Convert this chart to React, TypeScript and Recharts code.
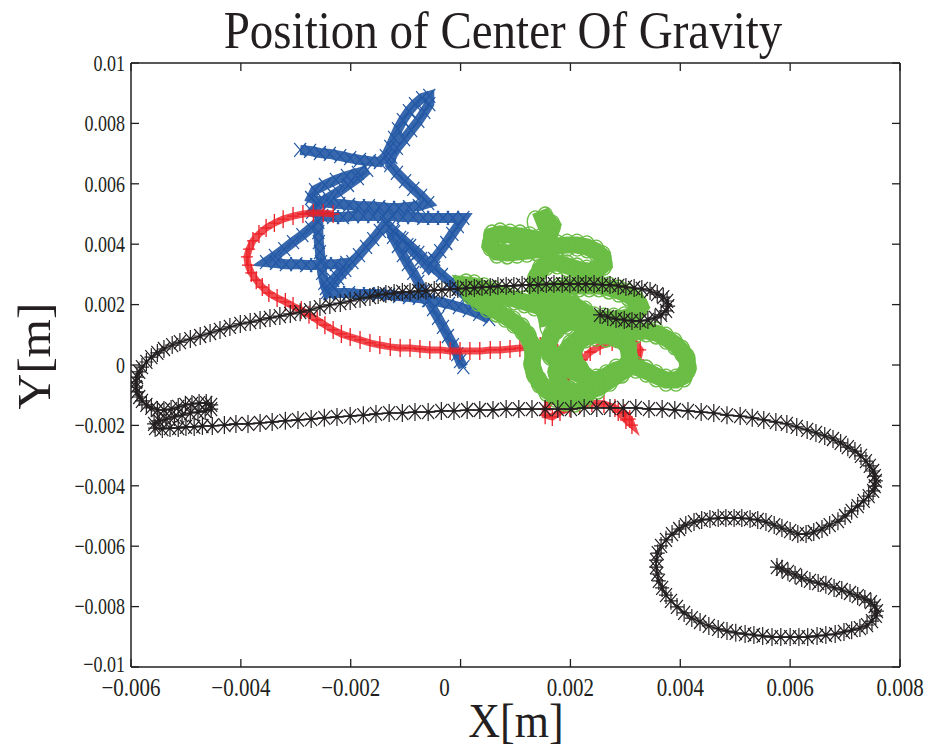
import React from "react";
import { ScatterChart, Scatter, XAxis, YAxis, ReferenceLine } from "recharts";

// axis ticks, metres
const X_TICKS = [-0.006, -0.004, -0.002, 0, 0.002, 0.004, 0.006, 0.008];
const X_TICK_LABELS = ["−0.006", "−0.004", "−0.002", "0", "0.002", "0.004", "0.006", "0.008"];
const Y_TICKS = [-0.01, -0.008, -0.006, -0.004, -0.002, 0, 0.002, 0.004, 0.006, 0.008, 0.01];
const Y_TICK_LABELS = ["−0.01", "−0.008", "−0.006", "−0.004", "−0.002", "0", "0.002", "0.004", "0.006", "0.008", "0.01"];

// trajectories, [x, y] in millimetres
const BLUE_PATH: [number, number][] = [
  [-2.92, 7.12], [-2.74, 7.09], [-2.56, 7.02], [-2.38, 6.99], [-2.19, 6.92], [-2.01, 6.85], [-1.83, 6.79], [-1.65, 6.75],
  [-1.47, 6.72], [-1.36, 6.92], [-1.28, 7.22], [-1.21, 7.52], [-1.14, 7.81], [-1.05, 8.11], [-0.94, 8.41], [-0.83, 8.64],
  [-0.70, 8.84], [-0.57, 8.91], [-0.57, 8.64], [-0.66, 8.38], [-0.77, 8.08], [-0.90, 7.78], [-1.03, 7.48], [-1.16, 7.19],
  [-1.26, 6.89], [-1.28, 6.62], [-1.16, 6.36], [-1.01, 6.09], [-0.86, 5.83], [-0.72, 5.60], [-0.59, 5.36], [-0.76, 5.26],
  [-0.94, 5.23], [-1.12, 5.20], [-1.30, 5.20], [-1.48, 5.23], [-1.67, 5.26], [-1.85, 5.26], [-2.03, 5.30], [-2.21, 5.33],
  [-2.39, 5.36], [-2.58, 5.43], [-2.72, 5.53], [-2.65, 5.79], [-2.47, 5.96], [-2.27, 6.13], [-2.07, 6.26], [-1.87, 6.36],
  [-1.70, 6.46], [-1.87, 6.19], [-2.05, 5.96], [-2.23, 5.73], [-2.41, 5.53], [-2.59, 5.30], [-2.70, 5.07], [-2.52, 4.93],
  [-2.32, 4.90], [-2.14, 4.90], [-1.96, 4.93], [-1.77, 4.93], [-1.59, 4.93], [-1.41, 4.93], [-1.23, 4.93], [-1.05, 4.90],
  [-0.86, 4.90], [-0.68, 4.87], [-0.50, 4.87], [-0.32, 4.87], [-0.14, 4.87], [0.05, 4.87], [-0.05, 4.60], [-0.15, 4.34],
  [-0.26, 4.04], [-0.37, 3.77], [-0.48, 3.51], [-0.59, 3.24], [-0.72, 3.51], [-0.85, 3.74], [-0.97, 3.97], [-1.10, 4.21],
  [-1.23, 4.44], [-1.36, 4.70], [-1.47, 4.44], [-1.59, 4.17], [-1.72, 3.91], [-1.85, 3.64], [-1.97, 3.41], [-2.10, 3.15],
  [-2.23, 2.88], [-2.34, 2.62], [-2.43, 2.42], [-2.48, 2.72], [-2.52, 3.05], [-2.54, 3.41], [-2.56, 3.74], [-2.58, 4.07],
  [-2.59, 4.40], [-2.59, 4.74], [-2.72, 4.54], [-2.88, 4.30], [-3.05, 4.07], [-3.21, 3.84], [-3.38, 3.61], [-3.54, 3.41],
  [-3.36, 3.38], [-3.18, 3.34], [-2.99, 3.34], [-2.81, 3.31], [-2.63, 3.31], [-2.45, 3.34], [-2.27, 3.34], [-2.08, 3.38],
  [-2.19, 3.08], [-2.32, 2.81], [-2.45, 2.55], [-2.39, 2.38], [-2.21, 2.38], [-2.03, 2.38], [-1.85, 2.35], [-1.67, 2.35],
  [-1.48, 2.35], [-1.30, 2.32], [-1.12, 2.28], [-0.94, 2.25], [-0.76, 2.22], [-0.57, 2.15], [-0.39, 2.09], [-0.21, 2.02],
  [-0.03, 1.92], [0.15, 1.82], [0.34, 1.69], [0.52, 1.52], [0.39, 1.79], [0.25, 2.05], [0.10, 2.28], [-0.05, 2.52],
  [-0.19, 2.75], [-0.34, 2.98], [-0.48, 3.21], [-0.63, 3.44], [-0.77, 3.71], [-0.92, 3.94], [-1.06, 4.17], [-1.21, 4.40],
  [-1.30, 4.54], [-1.23, 4.24], [-1.14, 3.94], [-1.05, 3.64], [-0.96, 3.34], [-0.86, 3.05], [-0.77, 2.75], [-0.68, 2.45],
  [-0.59, 2.15], [-0.50, 1.85], [-0.41, 1.56], [-0.32, 1.26], [-0.23, 0.96], [-0.14, 0.66], [-0.06, 0.36], [-0.01, 0.13],
  [0.05, -0.07],
];

const RED_PATH: [number, number][] = [
  [-2.32, 5.00], [-2.50, 5.03], [-2.68, 5.03], [-2.87, 5.00], [-3.05, 4.93], [-3.23, 4.83], [-3.39, 4.70], [-3.54, 4.54],
  [-3.67, 4.34], [-3.78, 4.11], [-3.85, 3.84], [-3.89, 3.58], [-3.87, 3.31], [-3.81, 3.05], [-3.72, 2.81], [-3.61, 2.58],
  [-3.49, 2.38], [-3.34, 2.22], [-3.19, 2.09], [-3.05, 1.95], [-2.90, 1.82], [-2.76, 1.66], [-2.61, 1.49], [-2.47, 1.32],
  [-2.32, 1.16], [-2.17, 1.03], [-2.01, 0.93], [-1.83, 0.83], [-1.65, 0.73], [-1.47, 0.66], [-1.28, 0.60], [-1.10, 0.56],
  [-0.92, 0.56], [-0.74, 0.53], [-0.56, 0.50], [-0.37, 0.50], [-0.19, 0.46], [-0.01, 0.46], [0.17, 0.46], [0.35, 0.46],
  [0.54, 0.50], [0.72, 0.50], [0.90, 0.53], [1.08, 0.56], [1.26, 0.60], [1.45, 0.63], [1.63, 0.56], [1.77, 0.40],
  [1.90, 0.17], [2.03, -0.10], [2.17, -0.36], [2.36, -0.60], [2.54, -0.66], [2.72, -0.53], [2.90, -0.33], [3.08, -0.10],
  [3.23, 0.17], [3.27, 0.50], [3.16, 0.76], [2.98, 0.83], [2.76, 0.76], [2.54, 0.63], [2.36, 0.43], [2.21, 0.17],
  [2.08, -0.10], [1.96, -0.40], [1.85, -0.70], [1.74, -0.96], [1.63, -1.23], [1.54, -1.46], [1.54, -1.66], [1.67, -1.72],
  [1.81, -1.56], [1.99, -1.42], [2.17, -1.32], [2.39, -1.26], [2.61, -1.29], [2.81, -1.42], [2.98, -1.59], [3.08, -1.79],
  [3.12, -1.99], [3.01, -1.82], [2.87, -1.56],
];

const GREEN_PATH: [number, number][] = [
  [1.36, 4.74], [1.54, 4.87], [1.67, 4.60], [1.61, 4.27], [1.45, 4.14], [1.26, 4.21], [1.08, 4.27], [0.90, 4.30],
  [0.72, 4.34], [0.57, 4.27], [0.54, 3.97], [0.66, 3.74], [0.85, 3.71], [1.03, 3.74], [1.21, 3.77], [1.39, 3.81],
  [1.57, 3.87], [1.76, 3.94], [1.94, 3.97], [2.12, 3.97], [2.30, 3.91], [2.47, 3.77], [2.59, 3.58], [2.61, 3.34],
  [2.48, 3.15], [2.30, 3.11], [2.12, 3.18], [1.94, 3.28], [1.76, 3.38], [1.57, 3.34], [1.45, 3.15], [1.37, 2.85],
  [1.37, 2.52], [1.45, 2.22], [1.61, 2.38], [1.79, 2.52], [1.97, 2.58], [2.16, 2.62], [2.34, 2.62], [2.52, 2.62],
  [2.70, 2.55], [2.88, 2.45], [3.05, 2.32], [3.19, 2.15], [3.27, 1.92], [3.16, 1.66], [2.98, 1.56], [2.79, 1.52],
  [2.61, 1.52], [2.43, 1.56], [2.25, 1.59], [2.07, 1.66], [1.88, 1.72], [1.70, 1.79], [1.52, 1.89], [1.34, 1.99],
  [1.16, 2.09], [0.97, 2.19], [0.79, 2.28], [0.61, 2.42], [0.43, 2.52], [0.25, 2.62], [0.10, 2.65], [0.17, 2.38],
  [0.32, 2.15], [0.48, 1.95], [0.65, 1.79], [0.81, 1.62], [0.97, 1.42], [1.12, 1.19], [1.23, 0.93], [1.30, 0.63],
  [1.32, 0.33], [1.30, 0.03], [1.34, -0.26], [1.43, -0.56], [1.56, -0.83], [1.72, -1.03], [1.90, -1.16], [2.08, -1.19],
  [2.27, -1.06], [2.36, -0.79], [2.30, -0.50], [2.19, -0.20], [2.08, 0.10], [2.05, 0.43], [2.12, 0.73], [2.28, 0.93],
  [2.47, 0.99], [2.65, 0.96], [2.83, 0.96], [3.01, 1.03], [3.19, 1.09], [3.38, 1.13], [3.56, 1.06], [3.74, 0.89],
  [3.90, 0.70], [4.03, 0.46], [4.12, 0.20], [4.14, -0.10], [4.07, -0.36], [3.92, -0.50], [3.74, -0.50], [3.56, -0.36],
  [3.38, -0.20], [3.19, -0.07], [3.01, -0.07], [2.83, -0.17], [2.65, -0.36], [2.47, -0.50], [2.28, -0.43], [2.10, -0.26],
  [1.92, -0.07], [1.76, 0.13], [1.63, 0.36], [1.59, 0.66], [1.65, 0.96], [1.76, 1.23], [1.94, 1.39], [2.14, 1.46],
  [2.34, 1.42], [2.54, 1.29], [2.72, 1.13], [2.87, 0.93], [3.05, 0.60], [3.08, 0.17], [2.94, -0.23], [2.72, -0.50],
  [2.50, -0.76], [2.27, -0.89], [1.99, -0.89], [1.81, -0.66], [1.74, -0.23], [1.81, 0.23], [1.99, 0.63], [2.21, 0.96],
  [2.36, 1.29], [2.27, 1.75], [2.03, 2.02], [1.74, 2.09], [1.54, 1.75], [1.59, 1.29],
];

const BLACK_PATH: [number, number][] = [
  [2.54, 1.66], [2.68, 1.59], [2.83, 1.52], [2.98, 1.49], [3.12, 1.46], [3.27, 1.46], [3.41, 1.49], [3.54, 1.56],
  [3.65, 1.66], [3.74, 1.79], [3.78, 1.95], [3.76, 2.12], [3.69, 2.25], [3.58, 2.35], [3.45, 2.45], [3.30, 2.52],
  [3.16, 2.55], [3.01, 2.58], [2.87, 2.62], [2.72, 2.65], [2.58, 2.65], [2.43, 2.68], [2.28, 2.68], [2.14, 2.68],
  [1.99, 2.68], [1.85, 2.68], [1.70, 2.68], [1.56, 2.68], [1.41, 2.65], [1.26, 2.65], [1.12, 2.65], [0.97, 2.62],
  [0.83, 2.62], [0.68, 2.62], [0.54, 2.58], [0.39, 2.58], [0.25, 2.55], [0.10, 2.55], [-0.05, 2.52], [-0.19, 2.52],
  [-0.34, 2.48], [-0.48, 2.48], [-0.63, 2.45], [-0.77, 2.45], [-0.92, 2.42], [-1.06, 2.42], [-1.21, 2.38], [-1.36, 2.35],
  [-1.50, 2.32], [-1.65, 2.25], [-1.83, 2.19], [-2.01, 2.12], [-2.19, 2.05], [-2.38, 1.99], [-2.56, 1.92], [-2.74, 1.82],
  [-2.92, 1.75], [-3.10, 1.69], [-3.29, 1.62], [-3.47, 1.56], [-3.65, 1.49], [-3.83, 1.42], [-4.01, 1.36], [-4.20, 1.26],
  [-4.38, 1.16], [-4.56, 1.06], [-4.74, 0.96], [-4.92, 0.86], [-5.11, 0.76], [-5.25, 0.66], [-5.40, 0.53], [-5.52, 0.40],
  [-5.63, 0.26], [-5.72, 0.10], [-5.80, -0.07], [-5.85, -0.23], [-5.89, -0.40], [-5.91, -0.56], [-5.91, -0.73], [-5.89, -0.89],
  [-5.85, -1.06], [-5.80, -1.19], [-5.72, -1.32], [-5.63, -1.42], [-5.52, -1.49], [-5.40, -1.49], [-5.27, -1.46], [-5.14, -1.39],
  [-5.01, -1.32], [-4.89, -1.29], [-4.76, -1.26], [-4.63, -1.26], [-4.54, -1.32], [-4.54, -1.46], [-4.65, -1.52], [-4.78, -1.56],
  [-4.92, -1.59], [-5.07, -1.66], [-5.21, -1.72], [-5.36, -1.79], [-5.49, -1.85], [-5.58, -1.95], [-5.56, -2.09], [-5.43, -2.12],
  [-5.29, -2.09], [-5.14, -2.09], [-5.00, -2.05], [-4.85, -2.05], [-4.70, -2.02], [-4.52, -2.02], [-4.30, -1.99], [-4.09, -1.95],
  [-3.87, -1.95], [-3.65, -1.92], [-3.43, -1.89], [-3.19, -1.85], [-2.96, -1.82], [-2.72, -1.79], [-2.48, -1.75], [-2.25, -1.72],
  [-2.01, -1.69], [-1.77, -1.66], [-1.54, -1.62], [-1.30, -1.59], [-1.06, -1.59], [-0.83, -1.56], [-0.59, -1.56], [-0.35, -1.52],
  [-0.12, -1.52], [0.12, -1.49], [0.35, -1.49], [0.59, -1.49], [0.83, -1.46], [1.06, -1.46], [1.30, -1.46], [1.54, -1.46],
  [1.77, -1.46], [2.01, -1.46], [2.25, -1.42], [2.48, -1.42], [2.72, -1.42], [2.96, -1.42], [3.19, -1.42], [3.43, -1.46],
  [3.67, -1.46], [3.90, -1.49], [4.14, -1.52], [4.38, -1.56], [4.61, -1.59], [4.85, -1.66], [5.09, -1.69], [5.31, -1.75],
  [5.52, -1.82], [5.74, -1.89], [5.94, -1.95], [6.12, -2.05], [6.31, -2.15], [6.47, -2.25], [6.63, -2.35], [6.78, -2.45],
  [6.92, -2.58], [7.05, -2.72], [7.18, -2.85], [7.29, -3.01], [7.38, -3.18], [7.45, -3.34], [7.51, -3.51], [7.54, -3.68],
  [7.56, -3.84], [7.54, -4.01], [7.51, -4.17], [7.43, -4.34], [7.34, -4.50], [7.23, -4.67], [7.12, -4.83], [7.00, -5.00],
  [6.87, -5.17], [6.72, -5.30], [6.58, -5.43], [6.43, -5.53], [6.29, -5.60], [6.14, -5.60], [6.00, -5.50], [5.85, -5.40],
  [5.71, -5.30], [5.56, -5.20], [5.41, -5.13], [5.27, -5.10], [5.12, -5.07], [4.98, -5.07], [4.83, -5.07], [4.69, -5.07],
  [4.54, -5.10], [4.39, -5.13], [4.25, -5.20], [4.10, -5.30], [3.98, -5.43], [3.85, -5.60], [3.74, -5.79], [3.65, -5.99],
  [3.59, -6.23], [3.56, -6.46], [3.56, -6.69], [3.58, -6.92], [3.61, -7.15], [3.67, -7.38], [3.74, -7.62], [3.83, -7.81],
  [3.94, -8.01], [4.07, -8.21], [4.21, -8.38], [4.36, -8.51], [4.52, -8.64], [4.69, -8.74], [4.85, -8.81], [5.01, -8.87],
  [5.18, -8.91], [5.34, -8.94], [5.50, -8.97], [5.67, -9.01], [5.83, -9.01], [6.00, -9.01], [6.16, -9.01], [6.32, -9.01],
  [6.49, -8.97], [6.65, -8.94], [6.82, -8.91], [6.98, -8.84], [7.12, -8.78], [7.27, -8.71], [7.40, -8.61], [7.49, -8.48],
  [7.56, -8.31], [7.58, -8.15], [7.54, -7.98], [7.47, -7.85], [7.36, -7.75], [7.23, -7.65], [7.09, -7.55], [6.94, -7.45],
  [6.80, -7.38], [6.65, -7.28], [6.51, -7.22], [6.36, -7.15], [6.21, -7.05], [6.09, -6.95], [5.96, -6.85], [5.85, -6.75],
  [5.76, -6.69],
];

const W = 931;
const H = 751;
const PLOT_LEFT = 131;
const PLOT_TOP = 63;
const PLOT_RIGHT = 900;
const PLOT_BOTTOM = 667;
const Y_AXIS_W = 70;
const X_AXIS_H = 30;
const TICK_LEN = 8;
const SERIF = '"Liberation Serif", "DejaVu Serif", serif';
const INK = "#231f20";

const toMetres = (path: [number, number][]) => path.map(([x, y]) => ({ x: x / 1000, y: y / 1000 }));

function XTick(props: any) {
  const { x, payload } = props;
  const i = X_TICKS.indexOf(payload.value);
  const label = X_TICK_LABELS[i] ?? String(payload.value);
  // the "0" label sits left of its tick in the original
  const dx = payload.value === 0 ? -16 : 0;
  return (
    <g>
      <line x1={x} x2={x} y1={PLOT_BOTTOM} y2={PLOT_BOTTOM - TICK_LEN} stroke={INK} strokeWidth={1.3} />
      <line x1={x} x2={x} y1={PLOT_TOP} y2={PLOT_TOP + TICK_LEN} stroke={INK} strokeWidth={1.3} />
      <text
        transform={`translate(${x + dx},${PLOT_BOTTOM + 20}) scale(1,1.2)`}
        textAnchor="middle"
        dominantBaseline="central"
        fontFamily={SERIF}
        fontSize={21}
        fill={INK}
      >
        {label}
      </text>
    </g>
  );
}

function YTick(props: any) {
  const { y, payload } = props;
  const i = Y_TICKS.indexOf(payload.value);
  const label = Y_TICK_LABELS[i] ?? String(payload.value);
  // bottom label is nudged up a little, as in the original, so it clears the x labels
  const dy = payload.value === -0.01 ? -3 : 0;
  return (
    <g>
      <line x1={PLOT_LEFT} x2={PLOT_LEFT + TICK_LEN} y1={y} y2={y} stroke={INK} strokeWidth={1.3} />
      <line x1={PLOT_RIGHT} x2={PLOT_RIGHT - TICK_LEN} y1={y} y2={y} stroke={INK} strokeWidth={1.3} />
      <text
        transform={`translate(${PLOT_LEFT - 6},${y + dy}) scale(1,1.3)`}
        textAnchor="end"
        dominantBaseline="central"
        fontFamily={SERIF}
        fontSize={18}
        fill={INK}
      >
        {label}
      </text>
    </g>
  );
}

const xMarker = (color: string) => (p: any) => {
  const { cx, cy } = p;
  return (
    <path
      d={`M${cx - 6},${cy - 7}L${cx + 6},${cy + 7}M${cx - 6},${cy + 7}L${cx + 6},${cy - 7}`}
      stroke={color}
      strokeWidth={1.2}
      fill="none"
    />
  );
};

const plusMarker = (color: string) => (p: any) => {
  const { cx, cy } = p;
  return (
    <path d={`M${cx - 6},${cy}H${cx + 6}M${cx},${cy - 9}V${cy + 9}`} stroke={color} strokeWidth={1.3} fill="none" />
  );
};

const circleMarker = (color: string) => (p: any) => {
  const { cx, cy } = p;
  return <ellipse cx={cx} cy={cy} rx={8} ry={11} stroke={color} strokeWidth={1.4} fill="none" />;
};

const starMarker = (color: string) => (p: any) => {
  const { cx, cy } = p;
  return (
    <path
      d={`M${cx},${cy - 9}V${cy + 9}M${cx - 7},${cy}H${cx + 7}M${cx - 6},${cy - 7}L${cx + 6},${cy + 7}M${cx - 6},${cy + 7}L${cx + 6},${cy - 7}`}
      stroke={color}
      strokeWidth={1.2}
      fill="none"
    />
  );
};

export default function App() {
  const blue = toMetres(BLUE_PATH);
  const red = toMetres(RED_PATH);
  const green = toMetres(GREEN_PATH);
  const black = toMetres(BLACK_PATH);

  return (
    <div style={{ position: "absolute", left: 0, top: 0, width: W, height: H, background: "#fff", fontFamily: SERIF }}>
      <ScatterChart
        width={W}
        height={H}
        margin={{
          top: PLOT_TOP,
          right: W - PLOT_RIGHT,
          bottom: H - PLOT_BOTTOM - X_AXIS_H,
          left: PLOT_LEFT - Y_AXIS_W,
        }}
      >
        <XAxis
          type="number"
          dataKey="x"
          domain={[-0.006, 0.008]}
          ticks={X_TICKS}
          interval={0}
          allowDataOverflow
          height={X_AXIS_H}
          tickLine={false}
          axisLine={{ stroke: INK, strokeWidth: 1.5 }}
          tick={(p: any) => <XTick {...p} />}
        />
        <YAxis
          type="number"
          dataKey="y"
          domain={[-0.01, 0.01]}
          ticks={Y_TICKS}
          interval={0}
          allowDataOverflow
          width={Y_AXIS_W}
          tickLine={false}
          axisLine={{ stroke: INK, strokeWidth: 1.5 }}
          tick={(p: any) => <YTick {...p} />}
        />
        <ReferenceLine y={0.01} stroke={INK} strokeWidth={1.5} />
        <ReferenceLine x={0.008} stroke={INK} strokeWidth={1.5} />
        <Scatter
          data={blue}
          shape={xMarker("#2157a4")}
          line={{ stroke: "#2157a4", strokeWidth: 10, strokeOpacity: 0.9 }}
          lineType="joint"
          isAnimationActive={false}
        />
        <Scatter
          data={red}
          shape={plusMarker("#ec1f26")}
          line={{ stroke: "#ec1f26", strokeWidth: 7, strokeOpacity: 0.8 }}
          lineType="joint"
          isAnimationActive={false}
        />
        <Scatter
          data={green}
          shape={circleMarker("#6bbd45")}
          line={{ stroke: "#6bbd45", strokeWidth: 17 }}
          lineType="joint"
          isAnimationActive={false}
        />
        <Scatter
          data={black}
          shape={starMarker(INK)}
          line={{ stroke: INK, strokeWidth: 1.5 }}
          lineType="joint"
          isAnimationActive={false}
        />
      </ScatterChart>

      <div
        style={{
          position: "absolute",
          left: 503,
          top: 31,
          transform: "translate(-50%, -50%) scaleY(1.12)",
          fontSize: 47,
          color: INK,
          whiteSpace: "nowrap",
          lineHeight: 1,
        }}
      >
        Position of Center Of Gravity
      </div>
      <div
        style={{
          position: "absolute",
          left: 516,
          top: 722,
          transform: "translate(-50%, -50%) scaleY(1.1)",
          fontSize: 44,
          color: INK,
          whiteSpace: "nowrap",
          lineHeight: 1,
        }}
      >
        X[m]
      </div>
      <div
        style={{
          position: "absolute",
          left: 34,
          top: 356,
          transform: "translate(-50%, -50%) rotate(-90deg) scaleX(1.05)",
          fontSize: 47,
          color: INK,
          whiteSpace: "nowrap",
          lineHeight: 1,
        }}
      >
        Y[m]
      </div>
    </div>
  );
}
